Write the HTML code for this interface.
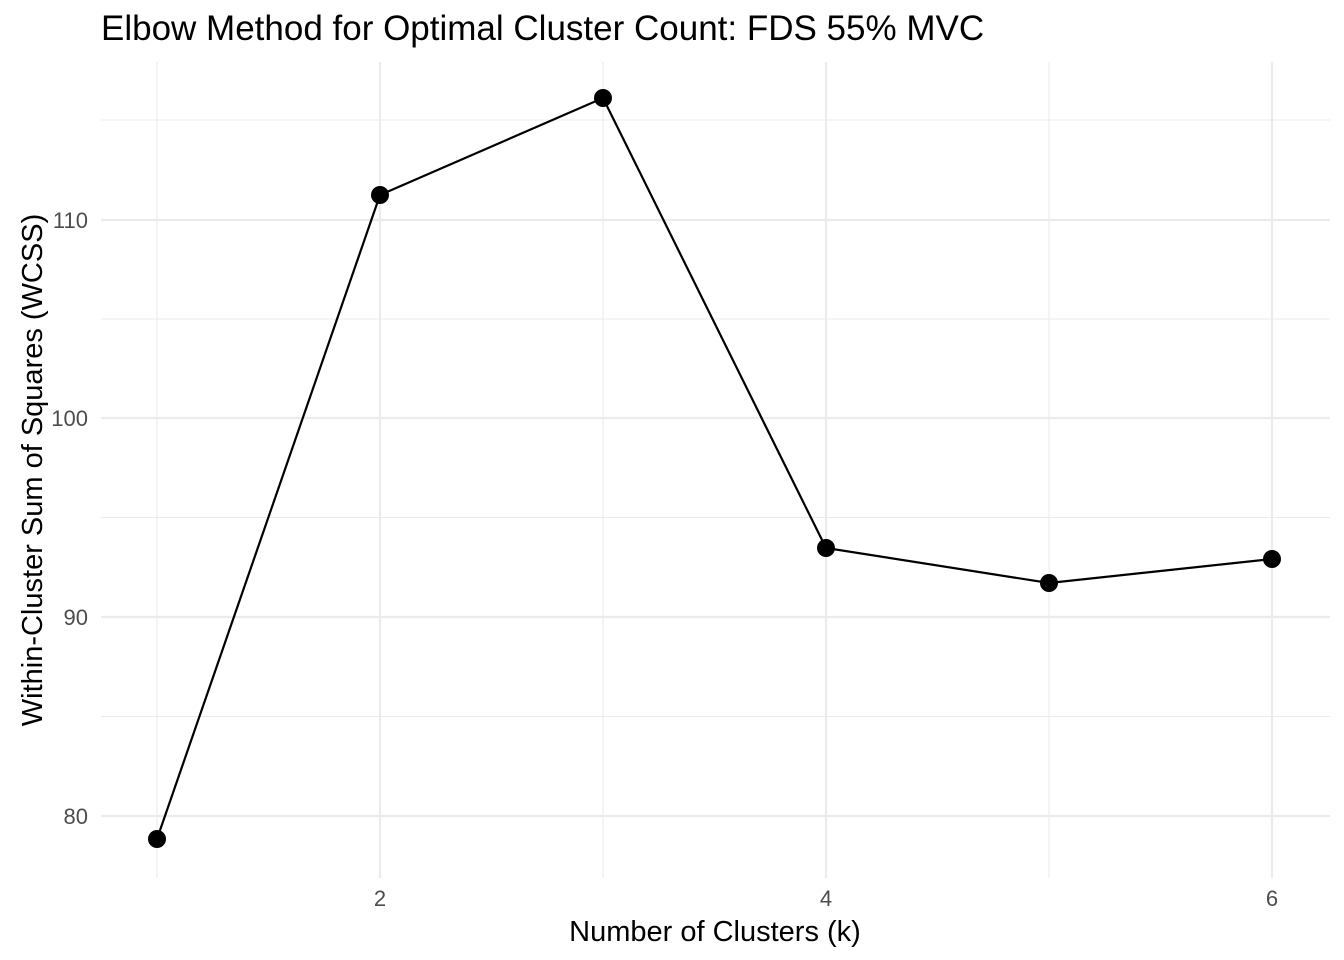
<!DOCTYPE html>
<html><head><meta charset="utf-8"><style>
body{margin:0;background:#fff;}
svg{display:block;font-family:"Liberation Sans",Arial,sans-serif;}
</style></head><body>
<svg width="1344" height="960" xmlns="http://www.w3.org/2000/svg">
<rect width="1344" height="960" fill="#fff"/>
<g stroke="#ebebeb" stroke-width="1.1">
<line x1="101" x2="1330" y1="716.5" y2="716.5"/>
<line x1="101" x2="1330" y1="517.5" y2="517.5"/>
<line x1="101" x2="1330" y1="319" y2="319"/>
<line x1="101" x2="1330" y1="120" y2="120"/>
<line x1="157" x2="157" y1="62" y2="878"/>
<line x1="603" x2="603" y1="62" y2="878"/>
<line x1="1049" x2="1049" y1="62" y2="878"/>
</g>
<g stroke="#ebebeb" stroke-width="2.2">
<line x1="101" x2="1330" y1="816" y2="816"/>
<line x1="101" x2="1330" y1="617" y2="617"/>
<line x1="101" x2="1330" y1="418" y2="418"/>
<line x1="101" x2="1330" y1="220" y2="220"/>
<line x1="380" x2="380" y1="62" y2="878"/>
<line x1="826" x2="826" y1="62" y2="878"/>
<line x1="1272" x2="1272" y1="62" y2="878"/>
</g>
<polyline fill="none" stroke="#000" stroke-width="2.2" points="157,839 380,195 603,98 826,548 1049,583 1272,559"/>
<g fill="#000">
<circle cx="157" cy="839" r="9"/><circle cx="380" cy="195" r="9"/><circle cx="603" cy="98" r="9"/>
<circle cx="826" cy="548" r="9"/><circle cx="1049" cy="583" r="9"/><circle cx="1272" cy="559" r="9"/>
</g>
<g fill="#4d4d4d" font-size="22" text-anchor="end">
<text x="88" y="824">80</text><text x="88" y="625">90</text><text x="88" y="426">100</text><text x="88" y="228">110</text>
</g>
<g fill="#4d4d4d" font-size="22" text-anchor="middle">
<text x="380" y="906">2</text><text x="826" y="906">4</text><text x="1272" y="906">6</text>
</g>
<text x="715" y="941" font-size="29" text-anchor="middle">Number of Clusters (k)</text>
<text transform="translate(42,470) rotate(-90)" font-size="29" text-anchor="middle">Within-Cluster Sum of Squares (WCSS)</text>
<text x="101" y="40" font-size="35">Elbow Method for Optimal Cluster Count: FDS 55% MVC</text>
</svg>
</body></html>
